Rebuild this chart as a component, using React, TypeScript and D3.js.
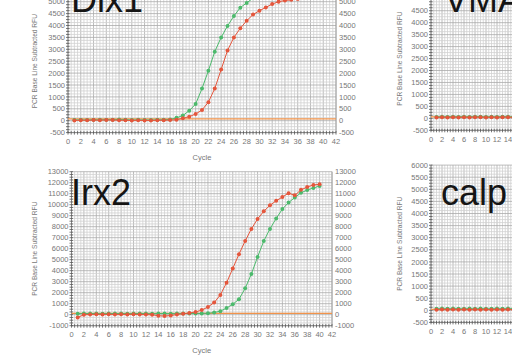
import React from "react";
import * as d3 from "d3";

// amplification cycles shown on every panel
const cycles = [1, 2, 3, 4, 5, 6, 7, 8, 9, 10, 11, 12, 13, 14, 15, 16, 17, 18, 19, 20,
  21, 22, 23, 24, 25, 26, 27, 28, 29, 30, 31, 32, 33, 34, 35, 36, 37, 38, 39, 40];
const cycleTicks = [0, 2, 4, 6, 8, 10, 12, 14, 16, 18, 20, 22, 24, 26, 28, 30, 32, 34, 36, 38, 40, 42];

// Dlx1
const dlx1Green = [30, 35, 30, 40, 35, 45, 40, 50, 40, 30, 35, 30, 30, 35, 40, 50,
  120, 220, 420, 700, 1350, 2100, 2900, 3500, 3980, 4400, 4750, 4950, 5150, 5350,
  5500, 5620, 5720, 5800, 5870, 5930, 5980, 6020, 6060, 6090];
const dlx1Red = [10, 20, 15, 25, 20, 30, 25, 20, 15, 10, 15, 10, 10, 15, 20, 25,
  40, 100, 170, 280, 450, 780, 1350, 2150, 2950, 3500, 3880, 4200, 4460, 4620,
  4760, 4900, 5000, 5050, 5080, 5120, 5160, 5200, 5230, 5260];
const dlx1Ticks = [-500, 0, 500, 1000, 1500, 2000, 2500, 3000, 3500, 4000, 4500, 5000, 5500];

// Irx2
const irx2Green = [90, 100, 110, 100, 90, 100, 110, 100, 90, 100, 110, 100, 90, 100, 100, 90,
  100, 110, 100, 110, 120, 130, 200, 320, 600, 950, 1400, 2400, 3700, 5250,
  6700, 7800, 8750, 9600, 10200, 10650, 11080, 11330, 11520, 11700];
const irx2Red = [-250, 0, 20, 30, 20, 30, 20, 30, 20, 30, 20, 10, 0, -100, -120, -80,
  20, 80, 150, 250, 420, 700, 1100, 1800, 2900, 4200, 5500, 6700, 7800, 8700,
  9400, 9950, 10350, 10700, 11050, 10850, 11350, 11600, 11800, 11850];
const irx2Ticks = [-1000, 0, 1000, 2000, 3000, 4000, 5000, 6000, 7000, 8000, 9000, 10000, 11000, 12000, 13000];

// VMA (cut off at the right edge)
const vmaGreen = [60, 65, 60, 70, 60, 65, 60, 70, 65, 60, 65, 60, 70, 65, 60, 65, 60, 70, 65, 60,
  65, 60, 70, 65, 60, 65, 60, 70, 65, 60, 65, 60, 70, 65, 60, 65, 60, 70, 65, 60];
const vmaRed = [40, 45, 40, 50, 40, 45, 40, 50, 45, 40, 45, 40, 50, 45, 40, 45, 40, 50, 45, 40,
  45, 40, 50, 45, 40, 45, 40, 50, 45, 40, 45, 40, 50, 45, 40, 45, 40, 50, 45, 40];
const vmaTicks = [-500, 0, 500, 1000, 1500, 2000, 2500, 3000, 3500, 4000, 4500, 5000, 5500];

// calp (cut off at the right edge)
const calpGreen = [60, 70, 60, 70, 65, 60, 70, 60, 70, 65, 60, 70, 60, 70, 65, 60, 70, 60, 70, 65,
  60, 70, 60, 70, 65, 60, 70, 60, 70, 65, 60, 70, 60, 70, 65, 60, 70, 60, 70, 65];
const calpRed = [20, 30, 25, 30, 20, 30, 25, 30, 20, 30, 25, 30, 20, 30, 25, 30, 20, 30, 25, 30,
  20, 30, 25, 30, 20, 30, 25, 30, 20, 30, 25, 30, 20, 30, 25, 30, 20, 30, 25, 30];
const calpTicks = [-500, 0, 500, 1000, 1500, 2000, 2500, 3000, 3500, 4000, 4500, 5000, 5500, 6000];

const GREEN = "#4cb96c";
const RED = "#e4563c";
const THRESH = "#f2934a";
const FONT = "'Liberation Sans', Arial, sans-serif";

type PanelProps = {
  id: string;
  title: string;
  titleX: number;
  titleY: number;
  left: number; right: number; top: number; bottom: number;
  ticks: number[];
  minor: number;
  green: number[];
  red: number[];
  threshold: number;
  yTitleX: number;
  rightAxis: boolean;
};

function Panel(p: PanelProps) {
  const yMin = p.ticks[0];
  const yMax = p.ticks[p.ticks.length - 1];
  const x = d3.scaleLinear().domain([0, 42]).range([p.left, p.right]);
  const y = d3.scaleLinear().domain([yMin, yMax]).range([p.bottom, p.top]);
  const step = p.ticks[1] - p.ticks[0];
  const gridX = d3.range(0, 42.001, 0.5);
  const gridY = d3.range(yMin, yMax + 0.001, p.minor);
  const line = d3.line<number>().x((_, i) => x(cycles[i])).y((d) => y(d));
  const clip = "clip-" + p.id;
  const midY = (p.top + p.bottom) / 2;
  const midX = (p.left + p.right) / 2;
  // only labels that fall inside the picture
  const shown = p.ticks.filter((v) => y(v) > 0);

  return (
    <g>
      <defs>
        <clipPath id={clip}>
          <rect x={p.left} y={p.top} width={p.right - p.left} height={p.bottom - p.top} />
        </clipPath>
      </defs>
      <rect x={p.left} y={p.top} width={p.right - p.left} height={p.bottom - p.top} fill="#fff" />
      {gridX.map((c) => (
        <line key={"gx" + c} x1={x(c)} x2={x(c)} y1={p.top} y2={p.bottom}
          stroke={c % 2 === 0 ? "#ababab" : "#d2d2d2"} strokeWidth={0.8} />
      ))}
      {gridY.map((v) => (
        <line key={"gy" + v} x1={p.left} x2={p.right} y1={y(v)} y2={y(v)}
          stroke={v % step === 0 ? "#ababab" : "#d2d2d2"} strokeWidth={0.8} />
      ))}
      {/* axes */}
      <line x1={p.left} x2={p.left} y1={p.top} y2={p.bottom} stroke="#777" strokeWidth={0.8} />
      <line x1={p.right} x2={p.right} y1={p.top} y2={p.bottom} stroke="#999" strokeWidth={0.8} />
      <line x1={p.left} x2={p.right} y1={p.bottom} y2={p.bottom} stroke="#777" strokeWidth={0.8} />
      {gridY.map((v) => (
        <line key={"ty" + v} x1={p.left - 2} x2={p.left + 1.5} y1={y(v)} y2={y(v)} stroke="#555" strokeWidth={0.8} />
      ))}
      {gridX.map((c) => (
        <line key={"tx" + c} x1={x(c)} x2={x(c)} y1={p.bottom - 1.5} y2={p.bottom + 2} stroke="#555" strokeWidth={0.8} />
      ))}
      {shown.map((v) => (
        <text key={"ly" + v} x={p.left - 3} y={y(v)} dy="0.35em" textAnchor="end"
          fontSize={7.5} fill="#777" fontFamily={FONT}>{v}</text>
      ))}
      {p.rightAxis && shown.map((v) => (
        <text key={"ry" + v} x={p.right + 3} y={y(v)} dy="0.35em" textAnchor="start"
          fontSize={7.5} fill="#777" fontFamily={FONT}>{v}</text>
      ))}
      {cycleTicks.map((c) => (
        <text key={"lx" + c} x={x(c)} y={p.bottom + 11.5} textAnchor="middle"
          fontSize={7.5} fill="#777" fontFamily={FONT}>{c}</text>
      ))}
      <text x={midX} y={p.bottom + 27} textAnchor="middle" fontSize={7.5} fill="#777" fontFamily={FONT}>Cycle</text>
      <text transform={`translate(${p.yTitleX},${midY}) rotate(-90)`} textAnchor="middle"
        fontSize={6.6} fill="#777" fontFamily={FONT}>PCR Base Line Subtracted RFU</text>
      <g clipPath={`url(#${clip})`}>
        <line x1={p.left} x2={p.right} y1={y(p.threshold)} y2={y(p.threshold)} stroke={THRESH} strokeWidth={1.2} />
        <path d={line(p.green) || ""} fill="none" stroke={GREEN} strokeWidth={1} />
        {p.green.map((v, i) => (
          <circle key={"g" + i} cx={x(cycles[i])} cy={y(v)} r={2} fill={GREEN} />
        ))}
        <path d={line(p.red) || ""} fill="none" stroke={RED} strokeWidth={1} />
        {p.red.map((v, i) => (
          <circle key={"r" + i} cx={x(cycles[i])} cy={y(v)} r={2} fill={RED} />
        ))}
      </g>
      <text x={p.titleX} y={p.titleY} fontSize={36} fill="#151515" fontFamily={FONT}>{p.title}</text>
    </g>
  );
}

export default function App() {
  return (
    <svg width={512} height={362} style={{ position: "absolute", left: 0, top: 0, background: "#fff" }}>
      <rect width={512} height={362} fill="#fff" />
      <Panel id="dlx1" title="Dlx1" titleX={71} titleY={12}
        left={68} right={336} top={-10.2} bottom={132.6}
        ticks={dlx1Ticks} minor={125} green={dlx1Green} red={dlx1Red} threshold={80}
        yTitleX={37} rightAxis={true} />
      <Panel id="irx2" title="Irx2" titleX={71} titleY={205}
        left={71.5} right={332} top={171.7} bottom={325.7}
        ticks={irx2Ticks} minor={250} green={irx2Green} red={irx2Red} threshold={120}
        yTitleX={37} rightAxis={true} />
      <Panel id="vma" title="VMA" titleX={444} titleY={12}
        left={431} right={662} top={-13.2} bottom={130.3}
        ticks={vmaTicks} minor={125} green={vmaGreen} red={vmaRed} threshold={60}
        yTitleX={402} rightAxis={false} />
      <Panel id="calp" title="calp" titleX={441} titleY={205}
        left={431} right={662} top={165.1} bottom={322.4}
        ticks={calpTicks} minor={125} green={calpGreen} red={calpRed} threshold={40}
        yTitleX={402} rightAxis={false} />
    </svg>
  );
}
